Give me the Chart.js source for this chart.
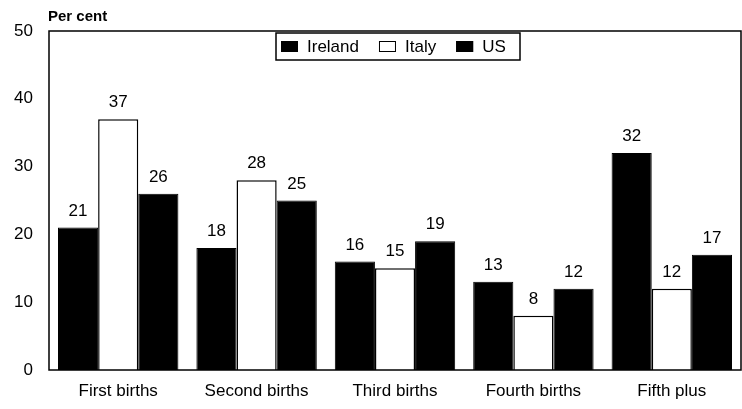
<!DOCTYPE html>
<html>
<head>
<meta charset="utf-8">
<script src="https://cdn.jsdelivr.net/npm/chart.js@4"></script>
<style>
  html, body { margin: 0; padding: 0; background: #fff; }
  #wrap { width: 742px; height: 409px; position: relative; }
</style>
</head>
<body>
<div id="wrap"><canvas id="c"></canvas></div>
<script>
const categories = ["First births", "Second births", "Third births", "Fourth births", "Fifth plus"];
const ireland = [21, 18, 16, 13, 32];
const italy = [37, 28, 15, 8, 12];
const us = [26, 25, 19, 12, 17];
const yTicks = [0, 10, 20, 30, 40, 50];

const FONT = "'Liberation Sans', Arial, sans-serif";

// value labels above each bar, plot frame, legend and "Per cent" caption
const extras = {
  id: "extras",
  afterDatasetsDraw(chart) {
    const ctx = chart.ctx;
    const area = chart.chartArea;
    ctx.save();
    ctx.fillStyle = "#000";
    ctx.font = "17px " + FONT;
    ctx.textAlign = "center";
    ctx.textBaseline = "bottom";
    chart.data.datasets.forEach((ds, i) => {
      chart.getDatasetMeta(i).data.forEach((bar, j) => {
        ctx.fillText(ds.data[j], bar.x, bar.y - 8);
      });
    });

    // frame
    ctx.strokeStyle = "#000";
    ctx.lineWidth = 1.5;
    ctx.strokeRect(area.left, area.top, area.right - area.left, area.bottom - area.top);

    // legend box
    const lx = 276, ly = 33, lw = 244, lh = 27;
    ctx.fillStyle = "#fff";
    ctx.fillRect(lx, ly, lw, lh);
    ctx.lineWidth = 1.5;
    ctx.strokeRect(lx, ly, lw, lh);
    ctx.font = "17px " + FONT;
    ctx.textAlign = "left";
    ctx.textBaseline = "middle";
    let x = lx + 5;
    chart.data.datasets.forEach(ds => {
      ctx.fillStyle = ds.backgroundColor;
      ctx.fillRect(x, ly + 8, 17, 11);
      ctx.lineWidth = 1;
      ctx.strokeRect(x + 0.5, ly + 8.5, 16, 10);
      ctx.fillStyle = "#000";
      ctx.fillText(ds.label, x + 26, ly + lh / 2 + 1);
      x += 26 + ctx.measureText(ds.label).width + 20;
    });

    ctx.font = "bold 15px " + FONT;
    ctx.textBaseline = "alphabetic";
    ctx.fillText("Per cent", 48, 21);
    ctx.restore();
  }
};

new Chart(document.getElementById("c"), {
  type: "bar",
  data: {
    labels: categories,
    datasets: [
      { label: "Ireland", data: ireland, backgroundColor: "#000", borderColor: "#000", borderWidth: 1 },
      { label: "Italy", data: italy, backgroundColor: "#fff", borderColor: "#000", borderWidth: 1.5 },
      { label: "US", data: us, backgroundColor: "#000", borderColor: "#000", borderWidth: 1 }
    ]
  },
  options: {
    responsive: true,
    maintainAspectRatio: false,
    animation: false,
    layout: { padding: { top: 31, right: 1, left: 0, bottom: 0 } },
    plugins: { legend: { display: false }, tooltip: { enabled: false } },
    datasets: { bar: { categoryPercentage: 0.87, barPercentage: 1.0 } },
    scales: {
      x: {
        grid: { display: false, drawTicks: false },
        border: { display: false },
        ticks: { color: "#000", font: { family: FONT, size: 17 }, padding: 11 },
        afterFit(s) { s.height = 39; }
      },
      y: {
        min: 0,
        max: 50,
        afterBuildTicks(s) { s.ticks = yTicks.map(v => ({ value: v })); },
        grid: { display: false, drawTicks: false },
        border: { display: false },
        ticks: { color: "#000", font: { family: FONT, size: 17 }, padding: 16 },
        afterFit(s) { s.width = 49; }
      }
    }
  },
  plugins: [extras]
});
</script>
</body>
</html>
